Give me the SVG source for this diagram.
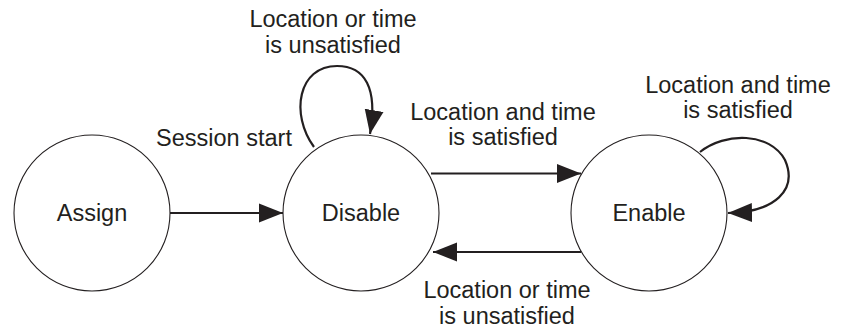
<svg xmlns="http://www.w3.org/2000/svg" width="854" height="332" viewBox="0 0 854 332">
<style>
.node{fill:#fff;stroke:#231f20;stroke-width:1.1}
.lbl{font-family:"Liberation Sans",Arial,sans-serif;font-size:23.5px;fill:#231f20;text-anchor:middle}
.edge{fill:none;stroke:#231f20;stroke-width:2.2}
</style>
<defs>
<marker id="ah" markerUnits="userSpaceOnUse" markerWidth="25" markerHeight="20" refX="24" refY="10" orient="auto">
<path d="M0,0.5 L24,10 L0,19.5 Z" fill="#231f20"/>
</marker>
</defs>
<rect width="854" height="332" fill="#fff"/>
<g id="assign">
<circle class="node" cx="92" cy="213" r="78"/>
<text class="lbl" x="92" y="221">Assign</text>
</g>
<g id="disable">
<circle class="node" cx="361" cy="213" r="78"/>
<text class="lbl" x="361" y="221">Disable</text>
</g>
<g id="enable">
<circle class="node" cx="649" cy="213" r="78"/>
<text class="lbl" x="649" y="221">Enable</text>
</g>
<g id="connectors">
<path class="edge" d="M170,213 L283,213" marker-end="url(#ah)"/>
<path class="edge" d="M431,173.5 L581,173.5" marker-end="url(#ah)"/>
<path class="edge" d="M581,252 L433,252" marker-end="url(#ah)"/>
<path class="edge" d="M314,147 C290,114 298,66 337,66 C365,66 378,88 370,134" marker-end="url(#ah)"/>
<path class="edge" d="M700,152 C725,132 770,132 785,160 C798,190 775,212 728,213" marker-end="url(#ah)"/>
</g>
<g id="labels">
<text class="lbl" x="333" y="27">Location or time</text>
<text class="lbl" x="333" y="53">is unsatisfied</text>
<text class="lbl" x="224" y="146">Session start</text>
<text class="lbl" x="503" y="120">Location and time</text>
<text class="lbl" x="503" y="145">is satisfied</text>
<text class="lbl" x="738" y="93">Location and time</text>
<text class="lbl" x="738" y="118">is satisfied</text>
<text class="lbl" x="507" y="298">Location or time</text>
<text class="lbl" x="507" y="324">is unsatisfied</text>
</g>
</svg>
